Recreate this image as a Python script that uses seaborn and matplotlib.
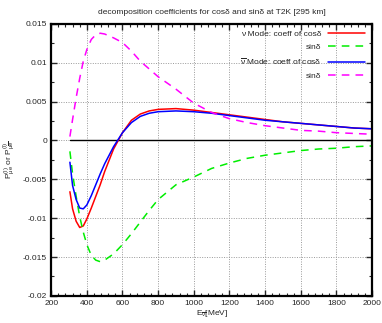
import numpy as np
import pandas as pd
import matplotlib
matplotlib.use('Agg')
import matplotlib.pyplot as plt
import seaborn as sns
from matplotlib.ticker import MultipleLocator

# energies in MeV
energy = [305, 320, 340, 360, 380, 400, 425, 450, 475, 500, 550, 600, 650,
          700, 750, 800, 900, 1000, 1100, 1200, 1300, 1400, 1500, 1600,
          1700, 1800, 1900, 2000]

# nu mode, coefficient of cos(delta)
nu_cos = [-0.0066, -0.0088, -0.0104, -0.0112, -0.0110, -0.0101, -0.0087,
          -0.0072, -0.0057, -0.0040, -0.0011, 0.0010, 0.0026, 0.0034,
          0.0038, 0.0040, 0.0041, 0.0039, 0.0036, 0.0033, 0.0030, 0.0027,
          0.0024, 0.0022, 0.0020, 0.0018, 0.0016, 0.0015]
# nu mode, coefficient of sin(delta)
nu_sin = [-0.0014, -0.0043, -0.0072, -0.0098, -0.0118, -0.0134, -0.0148,
          -0.0154, -0.0156, -0.0154, -0.0146, -0.0134, -0.0120, -0.0105,
          -0.0090, -0.0076, -0.0057, -0.0047, -0.0036, -0.0029, -0.0023,
          -0.0019, -0.0016, -0.0013, -0.0011, -0.0010, -0.0008, -0.0007]
# anti-nu mode, coefficient of cos(delta)
nubar_cos = [-0.0028, -0.0058, -0.0076, -0.0087, -0.0088, -0.0083, -0.0071,
             -0.0057, -0.0043, -0.0030, -0.0008, 0.0010, 0.0023, 0.0031,
             0.0035, 0.0037, 0.0038, 0.0037, 0.0035, 0.0032, 0.0029, 0.0026,
             0.0024, 0.0022, 0.0020, 0.0018, 0.0016, 0.0015]
# anti-nu mode, coefficient of sin(delta)
nubar_sin = [0.0005, 0.0027, 0.0055, 0.0080, 0.0102, 0.0117, 0.0130,
             0.0136, 0.0138, 0.0137, 0.0132, 0.0126, 0.0115, 0.0102,
             0.0092, 0.0082, 0.0066, 0.0048, 0.0036, 0.0028, 0.0023,
             0.0019, 0.0016, 0.0013, 0.0012, 0.0010, 0.0009, 0.0008]

labels = ['ν Mode: coeff of cosδ', 'sinδ',
          r'$\overline{\nu}$ Mode: coeff of cosδ', 'sinδ']
colors = ['#ff0000', '#00ee00', '#0000ff', '#ff00ff']
dashes = [None, (5, 4), None, (5, 4)]

sns.set_style('ticks')
plt.rcParams['font.family'] = ['Liberation Sans', 'DejaVu Sans']
plt.rcParams['mathtext.fontset'] = 'custom'
plt.rcParams['mathtext.rm'] = 'Liberation Sans'
plt.rcParams['mathtext.it'] = 'Liberation Sans'
plt.rcParams['mathtext.bf'] = 'Liberation Sans:bold'

fig = plt.figure(figsize=(3.82, 3.23), dpi=100)
ax = fig.add_axes([0.134, 0.084, 0.840, 0.842])

series = [nu_cos, nu_sin, nubar_cos, nubar_sin]
for vals, lab, col, dsh in zip(series, labels, colors, dashes):
    df = pd.DataFrame({'E': energy, 'P': vals})
    sns.lineplot(data=df, x='E', y='P', ax=ax, color=col, lw=1.1, label=lab)
    if dsh is not None:
        ax.lines[-1].set_dashes(dsh)

# zero line
ax.plot([energy[0], energy[-1]], [0, 0], color='black', lw=1.0, zorder=1)

ax.set_xlim(200, 2000)
ax.set_ylim(-0.02, 0.015)
ax.xaxis.set_major_locator(MultipleLocator(200))
ax.xaxis.set_minor_locator(MultipleLocator(40))
ax.yaxis.set_minor_locator(MultipleLocator(0.0025))
ax.set_yticks(np.arange(-0.02, 0.0151, 0.005))
ax.set_yticklabels(['-0.02', '-0.015', '-0.01', '-0.005', '0',
                    '0.005', '0.01', '0.015'])

ax.grid(True, which='major', color='#999999', ls=(0, (1, 1.5)), lw=0.7)
ax.tick_params(which='both', direction='in', top=True, right=True,
               labelsize=6, pad=3)
ax.tick_params(which='major', length=4, width=1)
ax.tick_params(which='minor', length=2, width=0.8)
for sp in ax.spines.values():
    sp.set_linewidth(1.6)
    sp.set_color('black')

ax.set_title('decomposition coefficients for cosδ and sinδ at T2K [295 km]',
             fontsize=6, pad=7)
ax.set_xlabel(r'E$_{\overline{\nu}}$[MeV]', fontsize=6, labelpad=1)
ax.set_ylabel(r'P$^{(I)}_{\mu e}$ or P$^{(I)}_{\mu \overline{e}}$', fontsize=6,
              labelpad=4)

ax.legend(loc='upper right', fontsize=6, frameon=False, markerfirst=False,
          handlelength=4.5, labelspacing=0.6, borderaxespad=0.4)

fig.savefig('out.png', dpi=100)
